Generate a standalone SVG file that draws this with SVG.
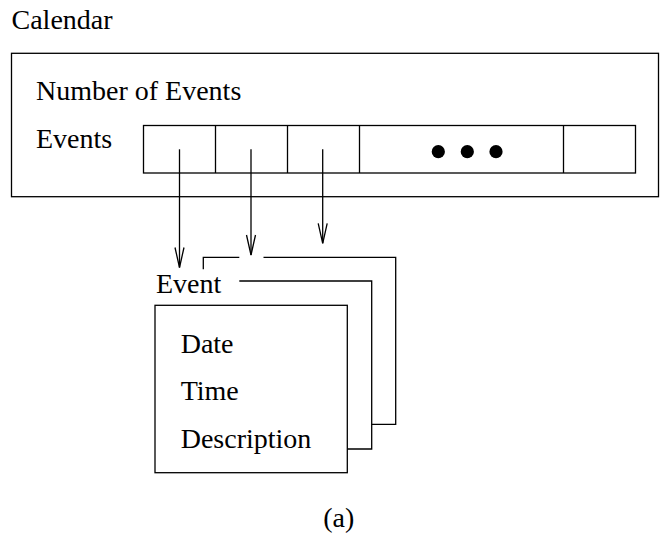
<svg xmlns="http://www.w3.org/2000/svg" width="660" height="544" viewBox="0 0 660 544">
  <style>
    .ln { fill: none; stroke: #000; stroke-width: 1.3; }
    .t { font-family: 'Liberation Serif', 'Times New Roman', serif; font-size: 28px; fill: #000; }
  </style>
  <defs>
    <marker id="vhead" markerUnits="userSpaceOnUse" markerWidth="24" markerHeight="12" viewBox="-21 -6 22 12" refX="0" refY="0" orient="auto">
      <path d="M-20,-4.5 L0,0 L-20,4.5" fill="none" stroke="#000" stroke-width="1.3"/>
    </marker>
  </defs>
  <rect width="660" height="544" fill="#fff"/>

  <g id="calendar">
    <text class="t" x="11.5" y="28.5">Calendar</text>
    <rect class="ln" x="11.5" y="53.3" width="647" height="143.4"/>
    <text class="t" x="36" y="100">Number of Events</text>
    <text class="t" x="36" y="148.3">Events</text>
  </g>

  <g id="events-array">
    <rect class="ln" x="143.5" y="125.5" width="492" height="47.5"/>
    <line class="ln" x1="215.5" y1="125.5" x2="215.5" y2="173"/>
    <line class="ln" x1="287.5" y1="125.5" x2="287.5" y2="173"/>
    <line class="ln" x1="359.5" y1="125.5" x2="359.5" y2="173"/>
    <line class="ln" x1="563.5" y1="125.5" x2="563.5" y2="173"/>
    <circle cx="438.3" cy="151.7" r="6.6" fill="#000"/>
    <circle cx="467.3" cy="151.7" r="6.6" fill="#000"/>
    <circle cx="496" cy="151.7" r="6.6" fill="#000"/>
  </g>

  <g id="event-card-3">
    <polyline class="ln" points="203.3,269.3 203.3,257.3 239.3,257.3"/>
    <polyline class="ln" points="263.5,257.3 395.7,257.3 395.7,424.3 371.7,424.3"/>
  </g>

  <g id="event-card-2">
    <polyline class="ln" points="239.3,281 371.7,281 371.7,449 347.3,449"/>
  </g>

  <g id="event-card-1">
    <text class="t" x="156" y="292.7">Event</text>
    <rect class="ln" x="155" y="305.3" width="192.3" height="167.4"/>
    <text class="t" x="180.7" y="353.3">Date</text>
    <text class="t" x="180.7" y="400">Time</text>
    <text class="t" x="180.7" y="448.3">Description</text>
  </g>

  <g id="connectors">
    <line class="ln" x1="179.5" y1="149.3" x2="179.5" y2="267.5" marker-end="url(#vhead)"/>
    <line class="ln" x1="251" y1="149.3" x2="251" y2="255" marker-end="url(#vhead)"/>
    <line class="ln" x1="322.7" y1="149.3" x2="322.7" y2="243.3" marker-end="url(#vhead)"/>
  </g>

  <text class="t" x="338.7" y="527" text-anchor="middle">(a)</text>
</svg>
